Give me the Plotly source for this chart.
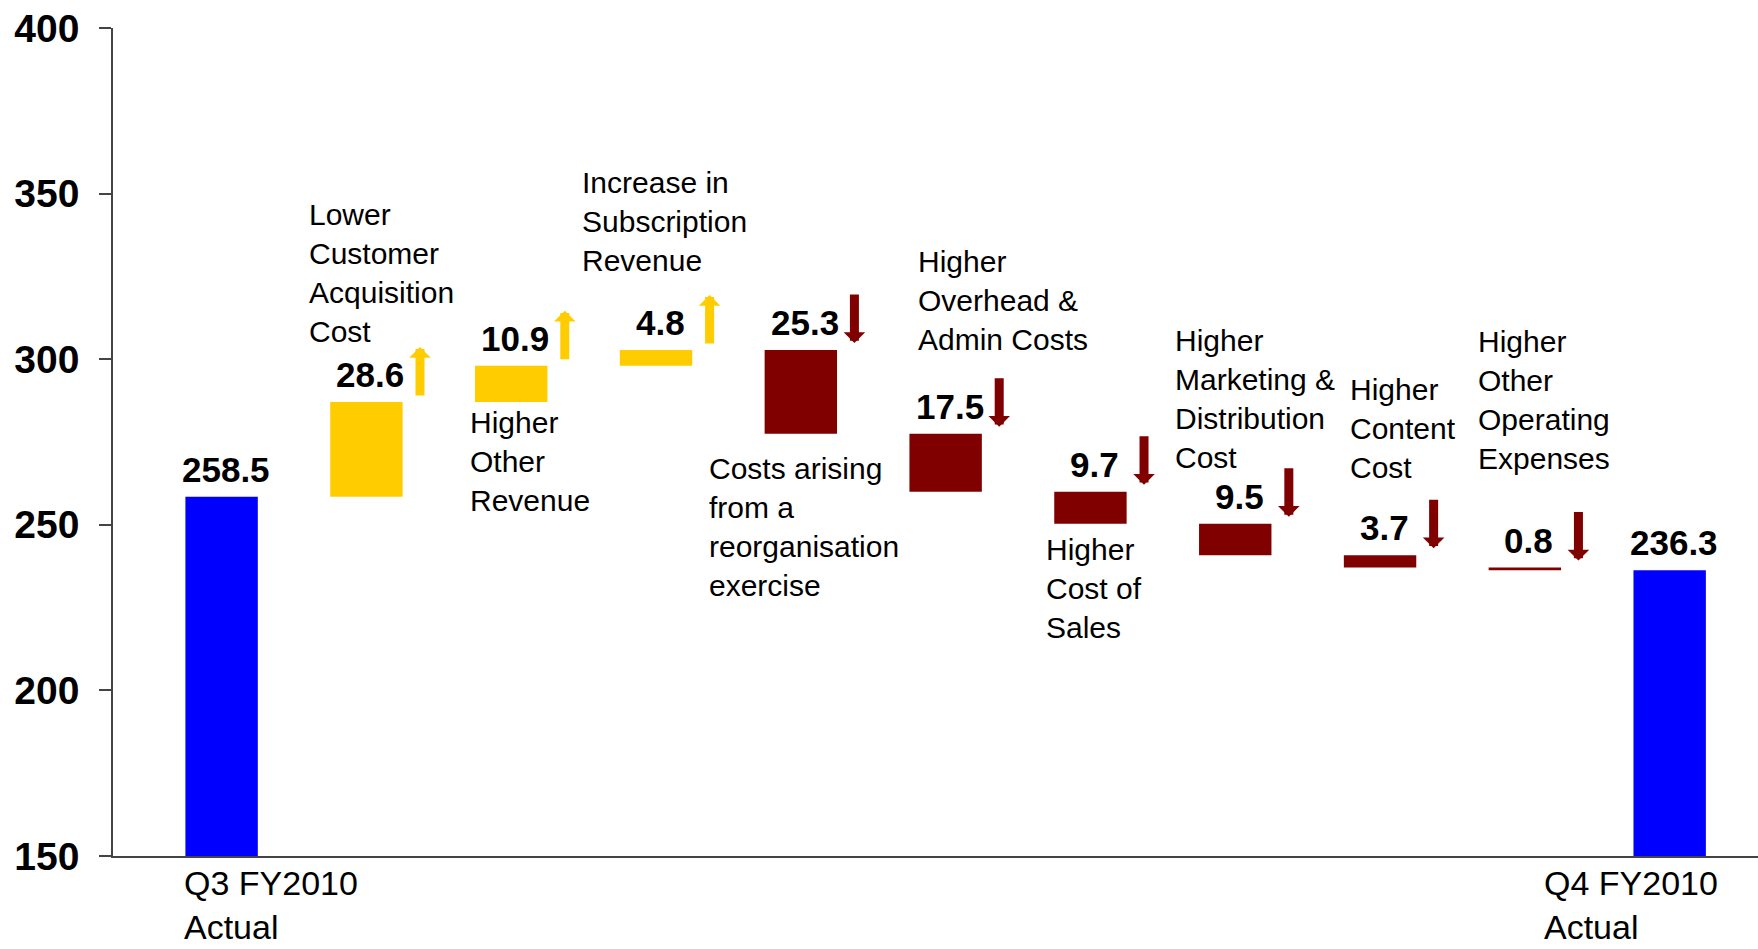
import plotly.graph_objects as go

# ---- data -------------------------------------------------------------
start_label = "Q3 FY2010<br>Actual"
end_label = "Q4 FY2010<br>Actual"
start_value = 258.5
end_value = 236.3

changes = [28.6, 10.9, 4.8, -25.3, -17.5, -9.7, -9.5, -3.7, -0.8]
change_labels = [
    "Lower<br>Customer<br>Acquisition<br>Cost",
    "Higher<br>Other<br>Revenue",
    "Increase in<br>Subscription<br>Revenue",
    "Costs arising<br>from a<br>reorganisation<br>exercise",
    "Higher<br>Overhead &<br>Admin Costs",
    "Higher<br>Cost of<br>Sales",
    "Higher<br>Marketing &<br>Distribution<br>Cost",
    "Higher<br>Content<br>Cost",
    "Higher<br>Other<br>Operating<br>Expenses",
]

y_ticks = [150, 200, 250, 300, 350, 400]

# ---- styling / placement ---------------------------------------------
BLUE = "#0000FF"
YELLOW = "#FFCC00"
RED = "#800000"
AXIS = "#444444"
FONT = "Liberation Sans, Arial, sans-serif"

# top-left anchor (x in category units, y in value units) for each caption
caption_pos = [
    (0.590, 349.3),
    (1.700, 286.5),
    (2.475, 358.9),
    (3.355, 272.6),
    (4.795, 335.1),
    (5.680, 248.1),
    (6.570, 311.2),
    (7.780, 296.4),
    (8.665, 310.9),
]

n = len(changes) + 2
xs = list(range(n))
measures = ["absolute"] + ["relative"] * len(changes) + ["total"]
ys = [start_value] + changes + [0]

fig = go.Figure(
    go.Waterfall(
        x=xs,
        y=ys,
        measure=measures,
        width=0.5,
        connector=dict(visible=False),
        increasing=dict(marker=dict(color=YELLOW, line=dict(width=0))),
        decreasing=dict(marker=dict(color=RED, line=dict(width=0))),
        totals=dict(marker=dict(color=BLUE, line=dict(width=0))),
        hoverinfo="skip",
    )
)

# top edge of every bar, derived from the running total
tops = [start_value]
level = start_value
for c in changes:
    new_level = level + c
    tops.append(max(level, new_level))
    level = new_level
tops.append(level)

annotations = []

# value labels
value_texts = [f"{start_value:.1f}"] + [f"{abs(c):.1f}" for c in changes] + [f"{level:.1f}"]
for i, (t, top) in enumerate(zip(value_texts, tops)):
    annotations.append(dict(
        x=i, y=top, xref="x", yref="y", text=f"<b>{t}</b>",
        showarrow=False, xanchor="center", yanchor="bottom",
        xshift=4, yshift=6,
        font=dict(family=FONT, size=35, color="black"),
    ))

# direction arrows next to each change label
for i, c in enumerate(changes, start=1):
    up = c > 0
    annotations.append(dict(
        x=i + 0.37, y=tops[i], xref="x", yref="y", text="",
        showarrow=True, arrowhead=1, arrowsize=0.4, arrowwidth=9,
        arrowcolor=YELLOW if up else RED,
        ax=0, ay=50 if up else -50,
        yshift=55 if up else 7,
    ))

# captions
for (cx, cy), txt in zip(caption_pos, change_labels):
    annotations.append(dict(
        x=cx, y=cy, xref="x", yref="y", text=txt, align="left",
        showarrow=False, xanchor="left", yanchor="top",
        font=dict(family=FONT, size=30, color="black"),
    ))

# period labels under the axis
for cx, txt in [(-0.273, start_label), (9.12, end_label)]:
    annotations.append(dict(
        x=cx, y=150, xref="x", yref="y", text=txt, align="left",
        showarrow=False, xanchor="left", yanchor="top", yshift=-6,
        font=dict(family=FONT, size=34, color="black"),
    ))

fig.update_layout(
    width=1758, height=949,
    margin=dict(l=113, r=0, t=28, b=93),
    plot_bgcolor="white", paper_bgcolor="white",
    showlegend=False,
    annotations=annotations,
    xaxis=dict(
        range=[-0.75, 10.61], showgrid=False, zeroline=False,
        showticklabels=False, ticks="", showline=True,
        linecolor=AXIS, linewidth=1.5,
    ),
    yaxis=dict(
        range=[150, 400], tickvals=y_ticks, showgrid=False, zeroline=False,
        ticks="outside", ticklen=12, tickcolor=AXIS, tickwidth=1.5,
        showline=True, linecolor=AXIS, linewidth=1.5,
        ticklabelstandoff=12,
        tickfont=dict(family=FONT, size=39, color="black", weight="bold"),
    ),
)

fig.write_html("out.html")
